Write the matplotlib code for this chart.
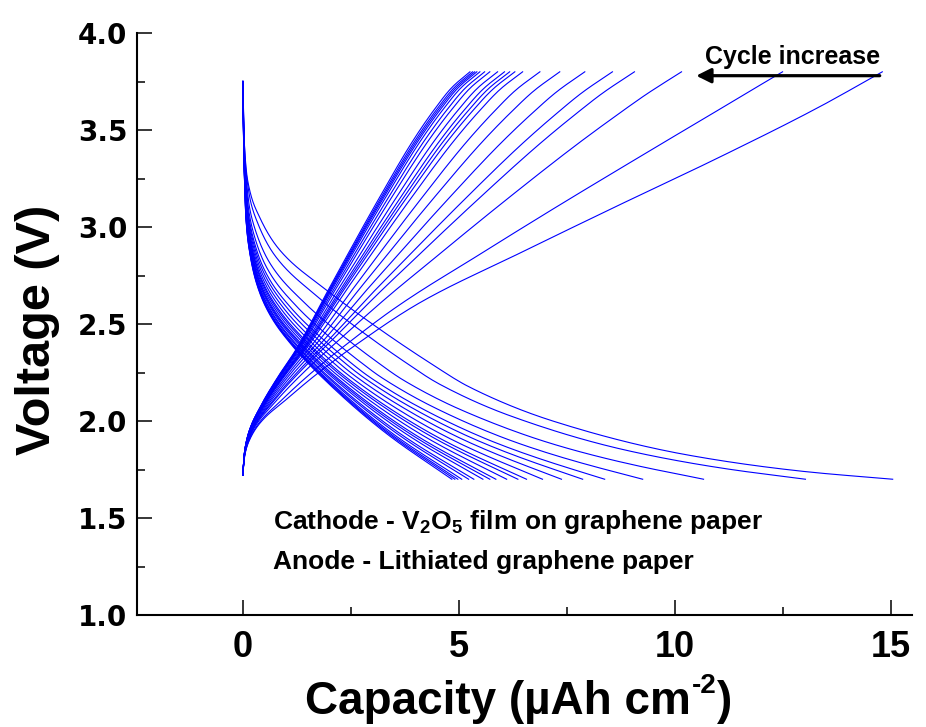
import numpy as np
import matplotlib
matplotlib.use('Agg')
import matplotlib.pyplot as plt
from matplotlib.ticker import MultipleLocator, FormatStrFormatter

# end capacities of each cycle (uAh cm-2), first cycle first
discharge_cap = [15.05, 13.03, 10.67, 9.26, 8.38, 7.87, 7.38, 6.94, 6.57, 6.37,
                 6.11, 5.86, 5.72, 5.56, 5.35, 5.23, 5.07, 4.98, 4.91, 4.84]
charge_cap = [14.81, 12.50, 10.16, 9.07, 8.56, 7.92, 7.34, 6.88, 6.48, 6.30,
              6.18, 6.06, 5.90, 5.72, 5.60, 5.49, 5.42, 5.37, 5.32, 5.26]

dis_short_x = [0, 0.01, 0.02, 0.04, 0.07, 0.15, 0.33, 0.62, 1.1, 2.0, 3.3, 4.84]
dis_short_v = [3.75, 3.55, 3.40, 3.23, 3.05, 2.88, 2.70, 2.55, 2.40, 2.19, 1.94, 1.70]
dis_long_x = [0, 0.03, 0.12, 0.39, 0.86, 1.94, 3.0, 4.33, 5.25, 7.18, 10.3, 13.0, 15.05]
dis_long_v = [3.75, 3.45, 3.23, 3.05, 2.88, 2.675, 2.50, 2.30, 2.175, 2.0, 1.825, 1.74, 1.70]

# charge profile
chg_short_x = [0, 0.02, 0.06, 0.15, 0.4, 0.8, 1.25, 2.0, 3.17, 4.0, 4.5, 4.9, 5.32]
chg_short_v = [1.72, 1.80, 1.87, 1.95, 2.07, 2.22, 2.37, 2.675, 3.14, 3.45, 3.61, 3.72, 3.80]
chg_long_x = [0, 0.02, 0.06, 0.15, 0.4, 1.0, 1.7, 2.6, 4.1, 6.41, 8.73, 11.04, 13.36, 14.81]
chg_long_v = [1.72, 1.78, 1.84, 1.90, 1.99, 2.11, 2.24, 2.39, 2.61, 2.865, 3.115, 3.36, 3.62, 3.80]


def pchip(xk, yk, xs):
    xk = np.asarray(xk, float)
    yk = np.asarray(yk, float)
    h = np.diff(xk)
    d = np.diff(yk) / h
    m = np.zeros_like(yk)
    m[0], m[-1] = d[0], d[-1]
    for i in range(1, len(xk) - 1):
        if d[i - 1] * d[i] > 0:
            w1 = 2 * h[i] + h[i - 1]
            w2 = h[i] + 2 * h[i - 1]
            m[i] = (w1 + w2) / (w1 / d[i - 1] + w2 / d[i])
    idx = np.clip(np.searchsorted(xk, xs) - 1, 0, len(h) - 1)
    t = (xs - xk[idx]) / h[idx]
    h00 = 2 * t**3 - 3 * t**2 + 1
    h10 = t**3 - 2 * t**2 + t
    h01 = -2 * t**3 + 3 * t**2
    h11 = t**3 - t**2
    return (h00 * yk[idx] + h10 * h[idx] * m[idx]
            + h01 * yk[idx + 1] + h11 * h[idx] * m[idx + 1])


f = np.concatenate([[0], np.geomspace(1e-4, 1, 500)])


def curves(caps, sx, sv, lx, lv):
    s = pchip(np.array(sx) / sx[-1], sv, f)
    l = pchip(np.array(lx) / lx[-1], lv, f)
    qmin, qmax = min(caps), max(caps)
    out = []
    for q in caps:
        w = (q - qmin) / (qmax - qmin)
        out.append((f * q, (1 - w) * s + w * l))
    return out


plt.rcParams['font.family'] = ['Liberation Sans', 'DejaVu Sans']
plt.rcParams['font.weight'] = 'bold'
plt.rcParams['mathtext.fontset'] = 'custom'
plt.rcParams['mathtext.bf'] = 'Liberation Sans:bold'
plt.rcParams['mathtext.rm'] = 'Liberation Sans:bold'
plt.rcParams['mathtext.it'] = 'Liberation Sans:bold'

W, H = 926, 727
fig = plt.figure(figsize=(W / 100, H / 100), dpi=100)
ax = fig.add_axes([0.148, 0.154, 0.837, 0.8006])

for x, v in curves(discharge_cap, dis_short_x, dis_short_v, dis_long_x, dis_long_v):
    ax.plot(x, v, color='#0000ff', lw=0.8)
for x, v in curves(charge_cap, chg_short_x, chg_short_v, chg_long_x, chg_long_v):
    ax.plot(x, v, color='#0000ff', lw=0.8)

ax.set_xlim(-2.45, 15.5)
ax.set_ylim(1.0, 4.0)
ax.xaxis.set_major_locator(MultipleLocator(5))
ax.xaxis.set_minor_locator(MultipleLocator(2.5))
ax.yaxis.set_major_locator(MultipleLocator(0.5))
ax.yaxis.set_minor_locator(MultipleLocator(0.25))
ax.yaxis.set_major_formatter(FormatStrFormatter('%.1f'))

for s in ['top', 'right']:
    ax.spines[s].set_visible(False)
for s in ['left', 'bottom']:
    ax.spines[s].set_linewidth(1.5)

ax.tick_params(which='both', direction='in', width=1.1)
ax.tick_params(which='major', length=11)
ax.tick_params(which='minor', length=6)
ax.tick_params(axis='x', pad=11)
ax.tick_params(axis='y', pad=7)

for lbl in ax.get_xticklabels():
    lbl.set_fontfamily(['Liberation Sans Narrow', 'Liberation Sans'])
    lbl.set_fontweight('bold')
    lbl.set_fontsize(26)
for lbl in ax.get_yticklabels():
    lbl.set_fontfamily(['DejaVu Sans'])
    lbl.set_fontweight('bold')
    lbl.set_fontsize(20)

ax.set_ylabel('Voltage (V)', fontsize=35, fontweight='bold')
ax.yaxis.set_label_coords(-0.099, 0.49)

# x label built from pieces so the superscript is a small hyphen, as in the source
renderer = fig.canvas.get_renderer()
base_y = (H - 714) / H
t1 = fig.text(305 / W, base_y, 'Capacity (\u00b5Ah cm', fontsize=33,
              fontweight='bold', va='baseline', ha='left')
x1 = t1.get_window_extent(renderer).x1
t2 = fig.text(x1 / W + 0.001, base_y + 21 / H, '-2', fontsize=20,
              fontweight='bold', va='baseline', ha='left')
x2 = t2.get_window_extent(renderer).x1
fig.text(x2 / W + 0.001, base_y, ')', fontsize=33, fontweight='bold',
         va='baseline', ha='left')

ax.text(0.69, 1.48, r'Cathode - V$_{\mathbf{2}}$O$_{\mathbf{5}}$ film on graphene paper',
        fontsize=19, fontweight='bold', va='center')
ax.text(0.69, 1.275, 'Anode - Lithiated graphene paper',
        fontsize=19, fontweight='bold', va='center')

ax.text(12.74, 3.876, 'Cycle increase', fontsize=18, fontweight='bold',
        ha='center', va='center')
ax.annotate('', xy=(10.5, 3.78), xytext=(14.75, 3.78),
            arrowprops=dict(arrowstyle='-|>', color='k', lw=2.3,
                            mutation_scale=22, shrinkA=0, shrinkB=0))

fig.savefig('out.png', dpi=100)
